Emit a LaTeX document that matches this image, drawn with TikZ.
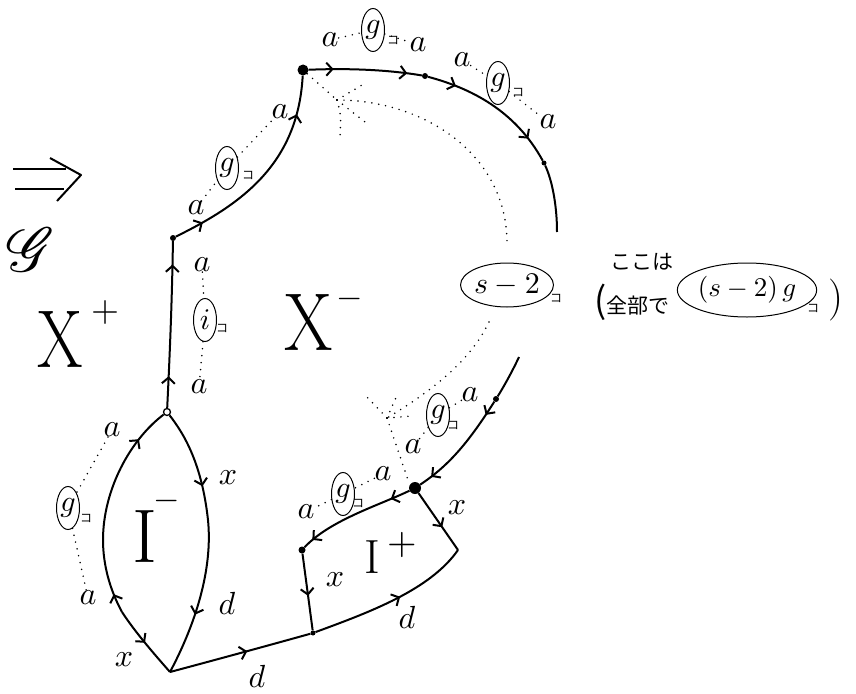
\documentclass[tikz,border=0pt]{standalone}
\usepackage{fontspec}
\usepackage{graphicx}
\usepackage{mathrsfs}
\newfontfamily\jp{Noto Sans CJK JP}
\newcommand\lb[1]{\scalebox{3.2}{$#1$}}
\newcommand\cgt[1]{\scalebox{3.0}{$#1$}}
\usetikzlibrary{arrows.meta,decorations.markings,shapes.geometric,calc}
\tikzset{
 ln/.style={line width=2pt},
 one/.style={postaction=decorate, decoration={markings, mark=at position #1 with {\arrow{Straight Barb[length=6pt,width=13pt]}}}},
 two/.style 2 args={postaction=decorate, decoration={markings, mark=at position #1 with {\arrow{Straight Barb[length=6pt,width=13pt]}}, mark=at position #2 with {\arrow{Straight Barb[length=6pt,width=13pt]}}}},
 dots/.style={line width=1.7pt, dash pattern=on 0pt off 7pt, line cap=round},
 vtx/.style={circle, fill, inner sep=0pt, minimum size=#1},
 lab/.style={inner sep=0pt},
 cg/.style={draw, ellipse, line width=1pt, inner sep=0pt, minimum width=23pt, minimum height=43pt},
 ko/.style={font=\jp\fontsize{12}{12}\selectfont, inner sep=0pt},
 jt/.style={font=\jp\fontsize{21}{21}\selectfont, inner sep=0pt},
 big/.style={font=\fontsize{#1}{#1}\selectfont, inner sep=0pt},
}
\begin{document}
\begin{tikzpicture}[x=1pt,y=-1pt]
\useasboundingbox (0,0) rectangle (856,693);

% implication arrow and script G
\draw[line width=2pt] (13,169) -- (66,169);
\draw[line width=2pt] (15,189) -- (64,189);
\draw[line width=2pt, line join=round] (50,158) -- (81,175) -- (57,201);
\node[inner sep=0pt] (G) at (31,250) {\scalebox{6.2}{$\mathscr{G}$}};

% vertices
\coordinate (B) at (170,672);
\coordinate (Lx) at (122,612);
\coordinate (Lm) at (103,540);
\coordinate (Rm) at (208,520);
\node[draw, circle, fill=white, line width=1.3pt, inner sep=0pt, minimum size=7pt] (T) at (167,412) {};
\node[vtx=6pt] (V1) at (173,238) {};
\node[vtx=11pt] (V2) at (303,70) {};
\node[vtx=6pt] (V2b) at (425,76) {};
\node[vtx=5pt] (V2c) at (544,163) {};
\coordinate (E) at (557,232);
\coordinate (S) at (519,357);
\node[vtx=6pt] (D1) at (496,399) {};
\node[vtx=12pt] (V3) at (415,488) {};
\node[vtx=7pt] (V4) at (302,550) {};
\node[vtx=5pt] (BM) at (313,633) {};
\coordinate (R) at (458,550);

% edges
\draw[ln, one=0.5] (Lx) .. controls (135,632) and (155,655) .. (B);
\draw[ln, two={0.09}{0.84}] (Lx) .. controls (110,590) and (103,565) .. (Lm) .. controls (103,490) and (130,440) .. (T);
\draw[ln, two={0.29}{0.77}] (T) .. controls (185,435) and (202,465) .. (Rm) .. controls (213,570) and (195,625) .. (B);
\draw[ln, two={0.19}{0.86}] (T) .. controls (170,350) and (172,300) .. (V1);
\draw[ln, two={0.14}{0.82}] (V1) .. controls (240,205) and (298,165) .. (V2);
\draw[ln, two={0.22}{0.87}] (V2) .. controls (350,68) and (390,70) .. (V2b);
\draw[ln, two={0.2}{0.82}] (V2b) .. controls (470,88) and (515,110) .. (V2c);
\draw[ln] (V2c) .. controls (552,180) and (557,205) .. (E);
\draw[ln] (S) .. controls (512,372) and (503,388) .. (D1);
\draw[ln, two={0.14}{0.88}] (D1) .. controls (470,440) and (450,465) .. (V3);
\draw[ln, two={0.17}{0.91}] (V3) .. controls (380,505) and (330,520) .. (V4);
\draw[ln, one=0.6] (V3) -- (R);
\draw[ln, one=0.55] (V4) -- (BM);
\draw[ln, one=0.55] (B) .. controls (215,660) and (270,645) .. (BM);
\draw[ln, one=0.55] (BM) .. controls (370,612) and (430,590) .. (R);

% labels: lens
\node[lab] (la1) at (112,430) {\lb{a}};
\node[lab] (lx1) at (228,478) {\lb{x}};
\node[cg] (g1) at (68,508) {\cgt{g}};
\node[ko] (k1) at (86,518) {コ};
\node[lab] (la2) at (88,598) {\lb{a}};
\node[lab] (ld1) at (227,603) {\lb{d}};
\node[lab] (lx2) at (124,660) {\lb{x}};
\node[lab] (ld2) at (257,676) {\lb{d}};
\draw[dots] (la1) -- (g1);
\draw[dots] (g1) -- (la2);

% labels: vertical
\node[lab] (la3) at (199,387) {\lb{a}};
\node[lab] (la4) at (202,265) {\lb{a}};
\node[cg] (i1) at (205,320) {\cgt{i}};
\node[ko] (k2) at (222,328) {コ};
\draw[dots] (la4) -- (i1);
\draw[dots] (i1) -- (la3);

% labels: V1-V2
\node[lab] (la5) at (196,208) {\lb{a}};
\node[cg] (g2) at (227,168) {\cgt{g}};
\node[ko] (k3) at (248,175) {コ};
\node[lab] (la6) at (280,112) {\lb{a}};
\draw[dots] (la5) -- (g2);
\draw[dots] (g2) -- (la6);

% labels: V2-V2b
\node[lab] (la7) at (330,40) {\lb{a}};
\node[cg] (g3) at (373,30) {\cgt{g}};
\node[ko] (k4) at (393,40) {コ};
\node[lab] (la8) at (418,45) {\lb{a}};
\draw[dots] (la7) -- (g3);
\draw[dots] (g3) -- (la8);

% labels: V2b-V2c
\node[lab] (la9) at (462,60) {\lb{a}};
\node[cg] (g4) at (498,83) {\cgt{g}};
\node[ko] (k5) at (518,92) {コ};
\node[lab] (la10) at (548,122) {\lb{a}};
\draw[dots] (la9) -- (g4);
\draw[dots] (g4) -- (la10);

% labels: D1-V3
\node[lab] (la11) at (470,395) {\lb{a}};
\node[cg] (g5) at (438,415) {\cgt{g}};
\node[ko] (k6) at (453,425) {コ};
\node[lab] (la12) at (413,447) {\lb{a}};
\draw[dots] (la11) -- (g5);
\draw[dots] (g5) -- (la12);

% labels: V3-V4
\node[lab] (la13) at (383,474) {\lb{a}};
\node[cg] (g6) at (343,494) {\cgt{g}};
\node[ko] (k7) at (358,503) {コ};
\node[lab] (la14) at (306,512) {\lb{a}};
\draw[dots] (la13) -- (g6);
\draw[dots] (g6) -- (la14);

% other edge labels
\node[lab] (lx3) at (457,508) {\lb{x}};
\node[lab] (lx4) at (335,580) {\lb{x}};
\node[lab] (ld3) at (407,617) {\lb{d}};

% region names
\node[big=82] (Xp) at (60,339) {\scalebox{0.8}[1]{X}};
\node[inner sep=0pt] (Xpp) at (105,312) {\scalebox{3.6}{$+$}};
\node[big=82] (Xm) at (309,322) {\scalebox{0.85}[1]{X}};
\node[inner sep=0pt] (Xmm) at (350,299) {\scalebox{3.4}{$-$}};
\node[big=76] (Im) at (145,537) {I};
\node[inner sep=0pt] (Imm) at (167,501) {\scalebox{3.4}{$-$}};
\node[big=48] (Ip) at (372,557) {I};
\node[inner sep=0pt] (Ipp) at (402,545) {\scalebox{3.8}{$+$}};

% dotted fans and long arc
\coordinate (F1) at (337,100);
\coordinate (F2) at (387,418);
\coordinate (A1) at (507,245);
\coordinate (A2) at (489,322);
\node[draw, ellipse, line width=1pt, inner sep=0pt, minimum width=83pt, minimum height=44pt] (s2) at (507,285) {\scalebox{3}{$s-2$}};
\node[ko] (k8) at (556,298) {コ};
\draw[dots] (V2) -- (F1);
\draw[dots] (F1) -- (367,82);
\draw[dots] (F1) -- (365,122);
\draw[dots] (F1) .. controls (341,115) .. (340,140);
\draw[dots] (F1) .. controls (425,100) and (508,155) .. (A1);
\draw[dots] (A2) .. controls (470,362) and (430,392) .. (F2);
\draw[dots] (F2) -- (365,395);
\draw[dots] (F2) -- (398,393);
\draw[dots] (F2) -- (412,416);
\draw[dots] (F2) -- (408,480);

% Japanese note
\node[jt] (n1) at (642,262) {ここは};
\node[jt, anchor=west] (n2) at (594,302) {{\fontsize{36}{36}\selectfont (}全部で};
\node[draw, ellipse, line width=1pt, inner sep=0pt, minimum width=107pt, minimum height=54pt] (sg) at (747,290) {\scalebox{2.7}{$(s-2)\,g$}};
\node[ko] (k9) at (813,308) {コ};
\node[big=42] (rp) at (836,300) {)};
\end{tikzpicture}
\end{document}
